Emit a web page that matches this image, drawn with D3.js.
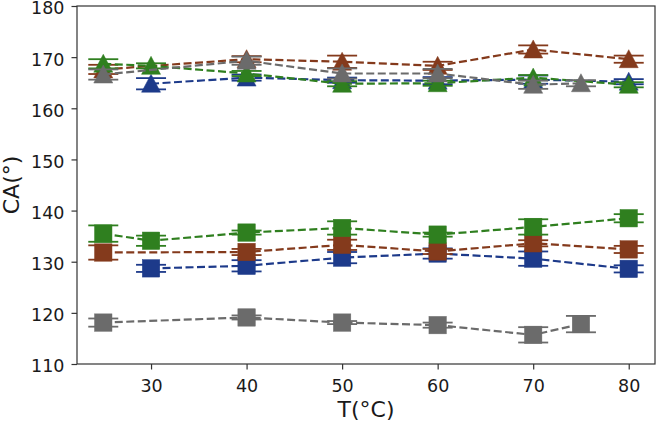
<!DOCTYPE html>
<html><head><meta charset="utf-8">
<script src="https://cdn.jsdelivr.net/npm/d3@7"></script>
<style>body{margin:0;background:#fff}svg{display:block}text{font-family:"DejaVu Sans",sans-serif;fill:#1a1a1a}</style>
</head><body><svg id="c" width="661" height="424"></svg>
<script>
// ---- data ----
const xBlue  = [30,40,50,60,70,80];
const xRed   = [25,40,50,60,70,80];
const xGreen = [25,30,40,50,60,70,80];
const xGray  = [25,40,50,60,70,75];

const triBlue  = [164.8,166.0,165.5,165.4,165.6,165.2];
const triBlueErr = [1.1,0.6,0.5,0.7,0.8,0.5];
const triRed   = [167.6,169.6,169.1,168.3,171.5,169.6];
const triRedErr = [0.9,0.6,1.2,0.8,0.8,0.7];
const triGreen = [168.7,168.3,166.8,164.8,164.9,166.0,164.6];
const triGreenErr = [0.9,0.5,0.5,0.5,0.5,0.5,0.5];
const triGray  = [166.6,169.3,166.8,166.8,164.6,164.9];
const triGrayErr = [1.0,0.8,1.0,0.9,0.8,0.6];

const sqBlue  = [128.7,129.2,130.8,131.6,130.6,128.6];
const sqBlueErr = [0.7,1.1,1.1,1.0,1.4,0.7];
const sqRed   = [131.8,131.9,133.3,132.0,133.6,132.4];
const sqRedErr = [1.4,0.6,1.0,0.5,0.6,0.7];
const sqGreen = [135.5,134.1,135.7,136.6,135.3,136.8,138.5];
const sqGreenErr = [1.6,1.0,0.4,1.3,0.4,1.5,0.8];
const sqGray  = [118.1,119.1,118.1,117.6,115.7,117.8];
const sqGrayErr = [0.8,0.4,0.3,0.5,1.5,1.6];

const xTicks = [30,40,50,60,70,80];
const yTicks = [110,120,130,140,150,160,170,180];
const xLabel = "T(°C)";
const yLabel = "CA(°)";

const colors = {blue:"#1d3a8a", red:"#843a1c", green:"#2f7f1f", gray:"#6b6b6b"};

// ---- layout ----
const L=77, R=655, T=6, B=364;
const svg = d3.select("#c");
const x = d3.scaleLinear().domain([22.25,82.75]).range([L,R]);
const y = d3.scaleLinear().domain([110,180]).range([B,T]);

const series = [
  {xs:xBlue, ys:sqBlue, es:sqBlueErr, c:colors.blue, m:"sq"},
  {xs:xRed, ys:sqRed, es:sqRedErr, c:colors.red, m:"sq"},
  {xs:xGreen, ys:sqGreen, es:sqGreenErr, c:colors.green, m:"sq"},
  {xs:xGray, ys:sqGray, es:sqGrayErr, c:colors.gray, m:"sq"},
  {xs:xBlue, ys:triBlue, es:triBlueErr, c:colors.blue, m:"tri"},
  {xs:xRed, ys:triRed, es:triRedErr, c:colors.red, m:"tri"},
  {xs:xGreen, ys:triGreen, es:triGreenErr, c:colors.green, m:"tri"},
  {xs:xGray, ys:triGray, es:triGrayErr, c:colors.gray, m:"tri"},
];

const plot = svg.append("g");
const line = d3.line().x(d=>x(d[0])).y(d=>y(d[1]));
const capW = 15;
series.forEach(s=>{
  const pts = s.xs.map((v,i)=>[v,s.ys[i],s.es[i]]);
  const g = plot.append("g");
  g.append("path").datum(pts).attr("d",line).attr("fill","none")
    .attr("stroke",s.c).attr("stroke-width",2.2).attr("stroke-dasharray","8,3.5");
  pts.forEach(p=>{
    const cx=x(p[0]), y1=y(p[1]+p[2]), y2=y(p[1]-p[2]);
    g.append("line").attr("x1",cx).attr("x2",cx).attr("y1",y1).attr("y2",y2).attr("stroke",s.c).attr("stroke-width",2);
    [y1,y2].forEach(yy=>g.append("line").attr("x1",cx-capW).attr("x2",cx+capW).attr("y1",yy).attr("y2",yy)
      .attr("stroke",s.c).attr("stroke-width",1.8));
  });
  pts.forEach(p=>{
    const cx=x(p[0]), cy=y(p[1]);
    if(s.m==="sq"){
      g.append("rect").attr("x",cx-8.7).attr("y",cy-8.7).attr("width",17.4).attr("height",17.4)
        .attr("fill",s.c).attr("stroke",s.c).attr("stroke-width",0.5);
    } else {
      g.append("path").attr("d",`M${cx},${cy-9.5}L${cx+9.5},${cy+8.5}L${cx-9.5},${cy+8.5}Z`)
        .attr("fill",s.c).attr("stroke",s.c).attr("stroke-width",0.5);
    }
  });
});

// axes
const ax = svg.append("g").attr("transform",`translate(0,${B})`)
  .call(d3.axisBottom(x).tickValues(xTicks).tickSize(5.5).tickPadding(10).tickFormat(d3.format("d")));
const ay = svg.append("g").attr("transform",`translate(${L},0)`)
  .call(d3.axisLeft(y).tickValues(yTicks).tickSize(5.5).tickPadding(7).tickFormat(d3.format("d")));
[ax,ay].forEach(a=>{
  a.select(".domain").remove();
  a.selectAll(".tick line").attr("stroke","#333").attr("stroke-width",1.2);
  a.selectAll(".tick text").attr("font-size",17.5).attr("fill","#1a1a1a").attr("font-family","DejaVu Sans");
});
ay.selectAll(".tick text").attr("dy","0.45em");
svg.append("rect").attr("x",L).attr("y",T).attr("width",R-L).attr("height",B-T)
  .attr("fill","none").attr("stroke","#333").attr("stroke-width",1.2);

svg.append("text").attr("x",(L+R)/2).attr("y",417).attr("text-anchor","middle").attr("font-size",22).text(xLabel);
svg.append("text").attr("transform",`translate(19,${(T+B)/2}) rotate(-90)`).attr("text-anchor","middle").attr("font-size",22).text(yLabel);
</script></body></html>
